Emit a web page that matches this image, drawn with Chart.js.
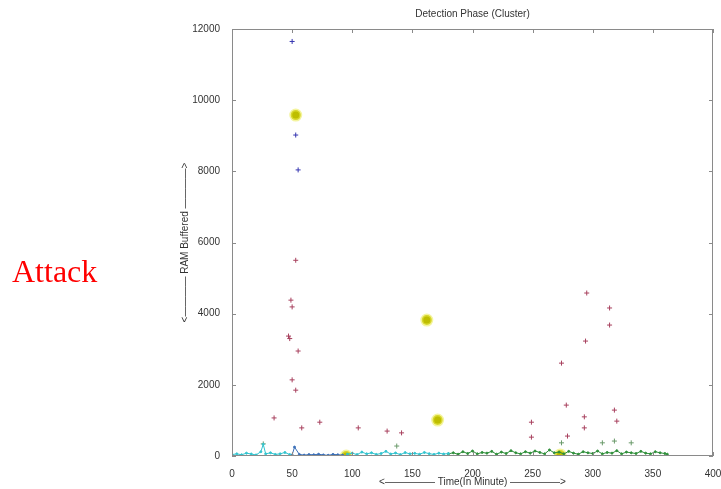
<!DOCTYPE html>
<html>
<head>
<meta charset="utf-8">
<script src="https://cdn.jsdelivr.net/npm/chart.js@4/dist/chart.umd.min.js"></script>
<style>
  body { margin: 0; background: #fff; }
  #wrap { position: relative; width: 721px; height: 489px; }
  #attack {
    position: absolute; left: 12px; top: 251px;
    font-family: "Liberation Serif", "DejaVu Serif", serif;
    font-size: 32px; color: #ff0000; line-height: 40px;
  }
</style>
</head>
<body>
<div id="wrap">
  <canvas id="myChart" width="721" height="489"></canvas>
  <div id="attack">Attack</div>
</div>
<script>
/* ---------- DATA ---------- */
const xTicks = [0, 50, 100, 150, 200, 250, 300, 350, 400];
const yTicks = [0, 2000, 4000, 6000, 8000, 10000, 12000];

// low baseline traffic, read along the bottom of the plot
const cyanAX = [0, 4, 8, 12, 16, 20, 24, 26, 28, 32, 36, 40, 44, 48];
const cyanAY = [40, 60, 35, 80, 55, 30, 120, 330, 60, 90, 45, 60, 100, 40];
const blueBX = [50, 52, 56, 60, 64, 68, 72, 76, 80, 84, 88, 92];
const blueBY = [30, 250, 45, 25, 40, 35, 50, 30, 20, 45, 35, 25];
const cyanCX = [96, 100, 104, 108, 112, 116, 120, 124, 128, 132, 136, 140, 144, 148, 152, 156, 160, 164, 168, 172, 176, 180];
const cyanCY = [50, 80, 40, 110, 60, 90, 45, 70, 130, 55, 85, 40, 95, 60, 75, 50, 100, 65, 45, 80, 55, 70];
const greenX = [180, 184, 188, 192, 196, 200, 204, 208, 212, 216, 220, 224, 228, 232, 236, 240, 244, 248, 252, 256, 260, 264, 268, 272, 276, 280, 284, 288, 292, 296, 300, 304, 308, 312, 316, 320, 324, 328, 332, 336, 340, 344, 348, 352, 356, 360, 362];
const greenY = [60, 90, 50, 120, 70, 140, 60, 100, 80, 130, 50, 110, 70, 150, 90, 60, 120, 80, 140, 100, 60, 170, 90, 110, 60, 130, 80, 50, 120, 90, 70, 140, 60, 100, 80, 150, 60, 110, 90, 70, 130, 80, 60, 120, 90, 70, 50];

// scattered samples
const blueX = [50, 53, 55];
const blueY = [11650, 9020, 8040];
const pinkX = [53, 49, 50, 47, 48, 55, 50, 53, 35, 58, 73, 105, 129, 141, 295, 314, 314, 294, 274, 278, 249, 249, 293, 293, 318, 320, 279];
const pinkY = [5500, 4380, 4190, 3370, 3300, 2950, 2140, 1850, 1070, 790, 950, 790, 700, 650, 4580, 4160, 3680, 3230, 2610, 1430, 950, 530, 1100, 790, 1290, 980, 560];
const lowX = [26, 137, 274, 308, 318, 332];
const lowY = [340, 280, 370, 370, 420, 370];

// cluster centres (highlighted)
const centreX = [53, 162, 171, 95, 273];
const centreY = [9580, 3820, 1010, 0, 30];

function pts(xs, ys) {
  return xs.map((x, i) => ({ x: x, y: ys[i] }));
}

/* ---------- BOX + INNER TICKS ---------- */
const boxPlugin = {
  id: "box",
  afterDatasetsDraw(c) {
    const a = c.chartArea, ctx = c.ctx;
    const sx = c.scales.x, sy = c.scales.y;
    ctx.save();
    ctx.strokeStyle = "#8a8a8a";
    ctx.lineWidth = 1;
    ctx.strokeRect(a.left + 0.5, a.top + 0.5, a.right - a.left - 1, a.bottom - a.top - 1);
    ctx.beginPath();
    xTicks.forEach(v => {
      const p = Math.round(sx.getPixelForValue(v)) + 0.5;
      ctx.moveTo(p, a.bottom); ctx.lineTo(p, a.bottom - 4);
      ctx.moveTo(p, a.top); ctx.lineTo(p, a.top + 4);
    });
    yTicks.forEach(v => {
      const p = Math.round(sy.getPixelForValue(v)) + 0.5;
      ctx.moveTo(a.left, p); ctx.lineTo(a.left + 4, p);
      ctx.moveTo(a.right, p); ctx.lineTo(a.right - 4, p);
    });
    ctx.stroke();
    ctx.restore();
  }
};

const font = { family: "'Liberation Sans', Arial, sans-serif", size: 10, weight: "normal" };
const baseLine = (data, color) => ({
  type: "line", data: data, borderColor: color, backgroundColor: color,
  borderWidth: 1, pointRadius: 1, pointHoverRadius: 1, showLine: true, tension: 0
});
const marks = (data, color) => ({
  type: "scatter", data: data, borderColor: color, backgroundColor: color,
  pointStyle: "cross", pointRadius: 2.5, borderWidth: 1
});

new Chart(document.getElementById("myChart"), {
  type: "scatter",
  data: {
    datasets: [
      baseLine(pts(cyanAX, cyanAY), "#33c4cf"),
      baseLine(pts(blueBX, blueBY), "#3a6fb8"),
      baseLine(pts(cyanCX, cyanCY), "#33c4cf"),
      baseLine(pts(greenX, greenY), "#2f8f3a"),
      marks(pts(blueX, blueY), "#3535b0"),
      marks(pts(pinkX, pinkY), "#a8405e"),
      marks(pts(lowX, lowY), "#6a9a6a"),
      {
        type: "scatter", data: pts(centreX, centreY),
        backgroundColor: "rgb(190,190,0)", borderColor: "rgba(235,235,80,0.55)",
        borderWidth: 3, pointRadius: 5, pointHoverRadius: 5
      }
    ]
  },
  options: {
    responsive: false,
    animation: false,
    devicePixelRatio: 1,
    layout: { padding: { left: 170, right: 8, top: 0, bottom: 0 } },
    plugins: {
      legend: { display: false },
      tooltip: { enabled: false },
      title: {
        display: true, text: "Detection Phase (Cluster)", fullSize: false,
        color: "#333", font: font, padding: { top: 8, bottom: 9 }
      }
    },
    scales: {
      x: {
        type: "linear", min: 0, max: 400,
        grid: { display: false }, border: { display: false },
        afterBuildTicks: s => { s.ticks = xTicks.map(v => ({ value: v })); },
        ticks: { color: "#333", font: font, padding: 4, maxRotation: 0, autoSkip: false, callback: v => String(v) },
        afterFit: s => { s.height = 33; s.paddingLeft = 0; s.paddingRight = 0; },
        title: {
          display: true, text: "<\u2014\u2014\u2014\u2014\u2014 Time(In Minute) \u2014\u2014\u2014\u2014\u2014>",
          color: "#333", font: font, padding: { top: 0, bottom: 1 }
        }
      },
      y: {
        type: "linear", min: 0, max: 12000,
        grid: { display: false }, border: { display: false },
        afterBuildTicks: s => { s.ticks = yTicks.map(v => ({ value: v })); },
        ticks: { color: "#333", font: font, padding: 4, callback: v => String(v) },
        afterFit: s => { s.width = 62; },
        title: {
          display: true, text: "<\u2014\u2014\u2014\u2014 RAM Buffered \u2014\u2014\u2014\u2014>",
          color: "#333", font: font, padding: { top: 9, bottom: 0 }
        }
      }
    }
  },
  plugins: [boxPlugin]
});
</script>
</body>
</html>
